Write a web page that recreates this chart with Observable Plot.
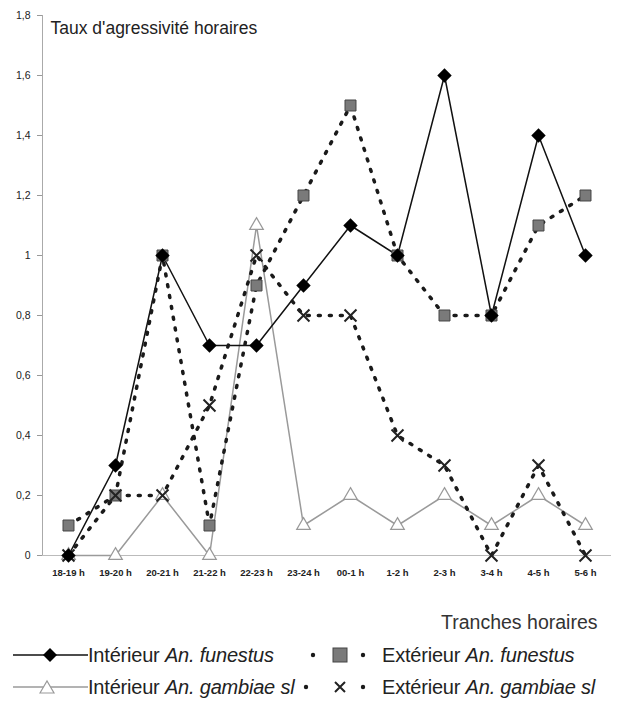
<!DOCTYPE html>
<html>
<head>
<meta charset="utf-8">
<script src="https://cdn.jsdelivr.net/npm/d3@7"></script>
<script src="https://cdn.jsdelivr.net/npm/@observablehq/plot@0.6"></script>
<style>
  body { margin: 0; background: #fff; font-family: "Liberation Sans", Arial, sans-serif; }
  #wrap { position: relative; width: 621px; height: 702px; }
  .leg { position: absolute; font-size: 20px; color: #222; white-space: nowrap; line-height: 22px; letter-spacing: -0.2px; }
  .leg i { font-style: italic; }
  .sample { position: absolute; }
</style>
</head>
<body>
<div id="wrap">
  <div id="chart"></div>
</div>
<script>
const categories = ["18-19 h","19-20 h","20-21 h","21-22 h","22-23 h","23-24 h","00-1 h","1-2 h","2-3 h","3-4 h","4-5 h","5-6 h"];
const interieurFunestus = [0, 0.3, 1.0, 0.7, 0.7, 0.9, 1.1, 1.0, 1.6, 0.8, 1.4, 1.0];
const exterieurFunestus = [0.1, 0.2, 1.0, 0.1, 0.9, 1.2, 1.5, 1.0, 0.8, 0.8, 1.1, 1.2];
const interieurGambiae = [0, 0, 0.2, 0, 1.1, 0.1, 0.2, 0.1, 0.2, 0.1, 0.2, 0.1];
const exterieurGambiae = [0, 0.2, 0.2, 0.5, 1.0, 0.8, 0.8, 0.4, 0.3, 0, 0.3, 0];
const yTicks = [0, 0.2, 0.4, 0.6, 0.8, 1, 1.2, 1.4, 1.6, 1.8];
const title = "Taux d'agressivité horaires";
const xTitle = "Tranches horaires";

const toRows = (vals) => categories.map((c, i) => ({cat: c, v: vals[i]}));
const iF = toRows(interieurFunestus);
const eF = toRows(exterieurFunestus);
const iG = toRows(interieurGambiae);
const eG = toRows(exterieurGambiae);

const dotted = {stroke: "#1a1a1a", strokeWidth: 3.5, strokeDasharray: "2,9", strokeLinecap: "round"};

const chart = Plot.plot({
  width: 621,
  height: 640,
  marginTop: 15,
  marginBottom: 85,
  marginLeft: 42,
  marginRight: 10,
  style: {fontFamily: "Liberation Sans, Arial, sans-serif", background: "#fff", color: "#222"},
  x: {type: "point", domain: categories, padding: 0.44},
  y: {domain: [0, 1.8]},
  marks: [
    Plot.frame({anchor: "left", stroke: "#aaa"}),
    Plot.ruleY([0], {stroke: "#bbb"}),
    Plot.axisY({ticks: yTicks, tickFormat: d => String(d).replace(".", ","), tickSize: 5, tickPadding: 7, fontSize: 10.5, stroke: "#999", label: null}),
    Plot.axisX({tickSize: 0, tickPadding: 14, fontSize: 9.5, fontWeight: "bold", label: null}),
    Plot.line(iG, {x: "cat", y: "v", stroke: "#9a9a9a", strokeWidth: 1.5}),
    Plot.line(iF, {x: "cat", y: "v", stroke: "#111", strokeWidth: 1.5}),
    Plot.line(eF, {x: "cat", y: "v", ...dotted}),
    Plot.line(eG, {x: "cat", y: "v", ...dotted}),
    Plot.dot(iG, {x: "cat", y: "v", symbol: "triangle2", r: 6.5, fill: "#fff", stroke: "#999", strokeWidth: 1.2}),
    Plot.dot(eF, {x: "cat", y: "v", symbol: "square2", r: 7, fill: "#7a7a7a", stroke: "#444", strokeWidth: 1}),
    Plot.dot(eG, {x: "cat", y: "v", symbol: "times", r: 5.5, stroke: "#222", strokeWidth: 2}),
    Plot.dot(iF, {x: "cat", y: "v", symbol: "diamond2", r: 6.5, fill: "#000"}),
    Plot.text([title], {frameAnchor: "top-left", dx: 8, dy: 13, lineAnchor: "middle", textAnchor: "start", fontSize: 17.5, fill: "#222"}),
    Plot.text([xTitle], {frameAnchor: "bottom-right", dx: -14, dy: 67, lineAnchor: "middle", textAnchor: "end", fontSize: 19.5, fill: "#333"})
  ]
});
document.getElementById("chart").appendChild(chart);

// Legend
const wrap = document.getElementById("wrap");
const legendItems = [
  {x: 10, y: 655, sw: 80, text: "Intérieur <i>An. funestus</i>", tx: 88,
   svg: '<line x1="3" y1="11" x2="78" y2="11" stroke="#111" stroke-width="1.5"/><path d="M33 11 L40 4 L47 11 L40 18 Z" fill="#000"/>'},
  {x: 295, y: 655, sw: 80, text: "Extérieur <i>An. funestus</i>", tx: 382,
   svg: '<circle cx="18" cy="11" r="2.2" fill="#1a1a1a"/><rect x="38" y="4" width="14" height="14" fill="#7a7a7a" stroke="#444"/><circle cx="68" cy="11" r="2.2" fill="#1a1a1a"/>'},
  {x: 10, y: 687, sw: 80, text: "Intérieur <i>An. gambiae sl</i>", tx: 88,
   svg: '<line x1="3" y1="11" x2="78" y2="11" stroke="#9a9a9a" stroke-width="1.5"/><path d="M30 17 L37 5 L44 17 Z" fill="#fff" stroke="#999" stroke-width="1.2"/>'},
  {x: 295, y: 687, sw: 80, text: "Extérieur <i>An. gambiae sl</i>", tx: 382,
   svg: '<circle cx="11" cy="11" r="2.2" fill="#1a1a1a"/><path d="M40 6 L50 16 M50 6 L40 16" stroke="#222" stroke-width="2"/><circle cx="68" cy="11" r="2.2" fill="#1a1a1a"/>'}
];
for (const it of legendItems) {
  const t = document.createElement("div");
  t.className = "leg";
  t.style.left = it.tx + "px";
  t.style.top = (it.y - 11) + "px";
  t.innerHTML = it.text;
  wrap.appendChild(t);
  const s = document.createElement("div");
  s.className = "sample";
  s.style.left = it.x + "px";
  s.style.top = (it.y - 11) + "px";
  s.innerHTML = `<svg width="${it.sw}" height="22">${it.svg}</svg>`;
  wrap.appendChild(s);
}
</script>
</body>
</html>
